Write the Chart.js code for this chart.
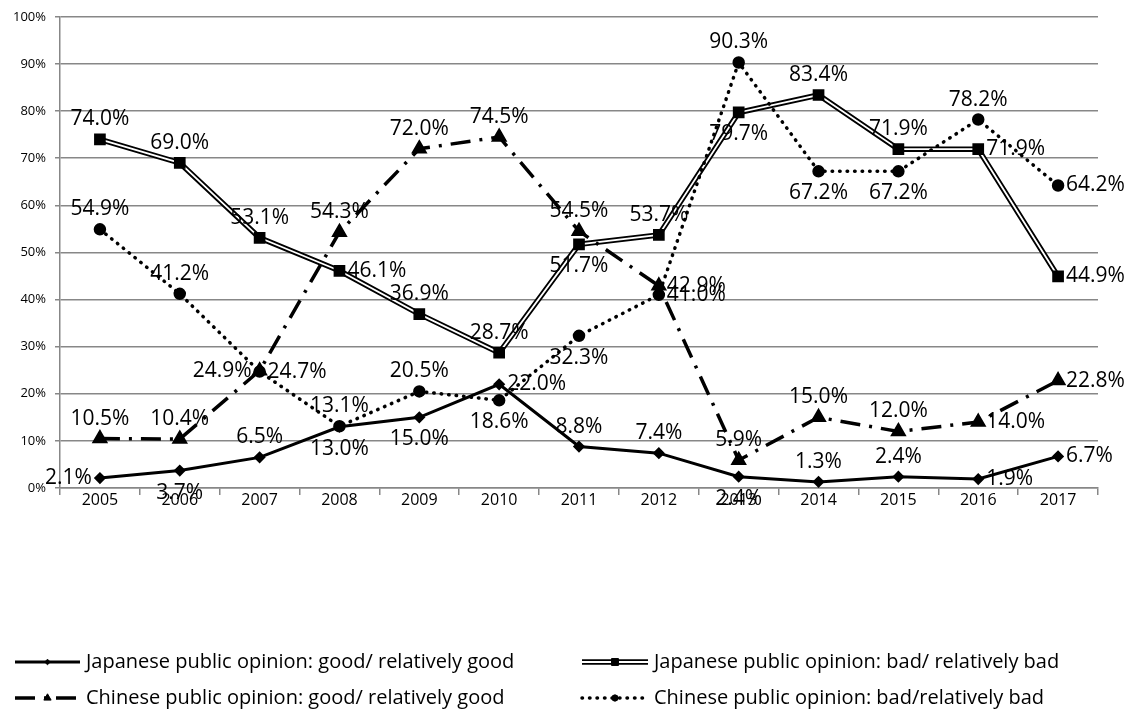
<!DOCTYPE html>
<html>
<head>
<meta charset="utf-8">
<script src="https://cdn.jsdelivr.net/npm/chart.js@4.4.1/dist/chart.umd.min.js"></script>
<style>
  html, body { margin: 0; padding: 0; background: #fff; }
  #wrap { width: 1127px; height: 718px; }
</style>
</head>
<body>
<div id="wrap"><canvas id="chart" width="1127" height="718"></canvas></div>
<script>
const years = ['2005', '2006', '2007', '2008', '2009', '2010', '2011', '2012', '2013', '2014', '2015', '2016', '2017'];
const yTicks = [0, 10, 20, 30, 40, 50, 60, 70, 80, 90, 100];

const jpGood = [2.1, 3.7, 6.5, 13.0, 15.0, 22.0, 8.8, 7.4, 2.4, 1.3, 2.4, 1.9, 6.7];
const jpBad = [74.0, 69.0, 53.1, 46.1, 36.9, 28.7, 51.7, 53.7, 79.7, 83.4, 71.9, 71.9, 44.9];
const cnGood = [10.5, 10.4, 24.9, 54.3, 72.0, 74.5, 54.5, 42.9, 5.9, 15.0, 12.0, 14.0, 22.8];
const cnBad = [54.9, 41.2, 24.7, 13.1, 20.5, 18.6, 32.3, 41.0, 90.3, 67.2, 67.2, 78.2, 64.2];

// where each value label sits relative to its point
const jpGoodPos = ['left', 'below', 'above', 'below', 'below', 'right', 'above', 'above', 'below', 'above', 'above', 'right', 'right'];
const jpBadPos = ['above', 'above', 'above', 'right', 'above', 'above', 'below', 'above', 'below', 'above', 'above', 'right', 'right'];
const cnGoodPos = ['above', 'above', 'left', 'above', 'above', 'above', 'above', 'right', 'above', 'above', 'above', 'right', 'right'];
const cnBadPos = ['above', 'above', 'right', 'above', 'above', 'below', 'below', 'right', 'above', 'below', 'below', 'above', 'right'];

const GRID = '#878787';
const FONT = "'Open Sans', 'Noto Sans', sans-serif";

// value labels next to the points
const valueLabels = {
    id: 'valueLabels',
    afterDatasetsDraw(chart) {
        const ctx = chart.ctx;
        ctx.save();
        ctx.font = '21px ' + FONT;
        ctx.fillStyle = '#000';
        ctx.textBaseline = 'middle';
        chart.data.datasets.forEach((ds, i) => {
            if (!ds.labelPos) return;
            chart.getDatasetMeta(i).data.forEach((pt, j) => {
                const txt = ds.data[j].toFixed(1) + '%';
                const pos = ds.labelPos[j];
                let x = pt.x, y = pt.y;
                if (pos === 'above') { ctx.textAlign = 'center'; y -= 20; }
                else if (pos === 'below') { ctx.textAlign = 'center'; y += 22; }
                else if (pos === 'right') { ctx.textAlign = 'left'; x += 8; }
                else { ctx.textAlign = 'right'; x -= 8; }
                ctx.fillText(txt, x, y);
            });
        });
        ctx.restore();
    }
};

// legend in two columns under the chart
const twoColLegend = {
    id: 'twoColLegend',
    afterDraw(chart) {
        const ctx = chart.ctx;
        const items = chart.data.datasets.filter(ds => !ds.legendSkip);
        const rows = [662, 698];
        const cols = [[15, 80], [582, 648]];
        items.forEach((ds, k) => {
            const y = rows[Math.floor(k / 2)];
            const [x0, x1] = cols[k % 2];
            ctx.save();
            ctx.lineCap = ds.borderCapStyle || 'butt';
            if (ds.doubleLine) {
                ctx.strokeStyle = '#000';
                ctx.lineWidth = 5.5;
                ctx.beginPath(); ctx.moveTo(x0, y); ctx.lineTo(x1, y); ctx.stroke();
            }
            ctx.setLineDash(ds.borderDash || []);
            ctx.strokeStyle = ds.borderColor;
            ctx.lineWidth = ds.borderWidth;
            ctx.beginPath(); ctx.moveTo(x0, y); ctx.lineTo(x1, y); ctx.stroke();
            ctx.setLineDash([]);
            ctx.fillStyle = ds.pointBackgroundColor;
            ctx.strokeStyle = ds.pointBorderColor;
            ctx.lineWidth = 1;
            Chart.helpers.drawPoint(ctx, { pointStyle: ds.pointStyle, radius: ds.pointRadius * 0.7, rotation: 0, borderWidth: 1 }, (x0 + x1) / 2, y);
            ctx.fillStyle = '#000';
            ctx.font = '20px ' + FONT;
            ctx.textAlign = 'left';
            ctx.textBaseline = 'middle';
            ctx.fillText(ds.label, x1 + 6, y);
            ctx.restore();
        });
    }
};

new Chart(document.getElementById('chart'), {
    type: 'line',
    data: {
        labels: years,
        datasets: [
            {
                label: 'Japanese public opinion: good/ relatively good',
                data: jpGood, labelPos: jpGoodPos,
                borderColor: '#000', borderWidth: 3,
                pointStyle: 'rectRot', pointRadius: 4,
                pointBackgroundColor: '#000', pointBorderColor: '#000',
                order: 0
            },
            {
                label: 'Japanese public opinion: bad/ relatively bad',
                data: jpBad, labelPos: jpBadPos, doubleLine: true,
                borderColor: '#fff', borderWidth: 1.8,
                pointStyle: 'rect', pointRadius: 7,
                pointBackgroundColor: '#000', pointBorderColor: '#000',
                order: 3
            },
            {
                label: 'Chinese public opinion: good/ relatively good',
                data: cnGood, labelPos: cnGoodPos,
                borderColor: '#000', borderWidth: 3.5, borderDash: [20, 9, 3, 9],
                pointStyle: 'triangle', pointRadius: 6,
                pointBackgroundColor: '#000', pointBorderColor: '#000',
                order: 1
            },
            {
                label: 'Chinese public opinion: bad/relatively bad',
                data: cnBad, labelPos: cnBadPos,
                borderColor: '#000', borderWidth: 3.5, borderDash: [0.5, 7], borderCapStyle: 'round',
                pointStyle: 'circle', pointRadius: 4.5,
                pointBackgroundColor: '#000', pointBorderColor: '#000',
                order: 2
            },
            {
                // black outer stroke of the double line
                label: '', legendSkip: true,
                data: jpBad,
                borderColor: '#000', borderWidth: 5.5, pointRadius: 0,
                order: 4
            }
        ]
    },
    options: {
        responsive: false,
        animation: false,
        devicePixelRatio: 1,
        layout: { padding: { left: 10, right: 29, top: 8, bottom: 200 } },
        elements: { line: { tension: 0 } },
        plugins: { legend: { display: false }, tooltip: { enabled: false } },
        scales: {
            x: {
                offset: true,
                grid: { offset: true, drawOnChartArea: false, tickLength: 7, color: GRID, lineWidth: 1.5 },
                border: { color: GRID, width: 1.5 },
                ticks: { color: '#000', font: { family: FONT, size: 16 }, padding: -4, maxRotation: 0 },
                afterFit: s => { s.height = 30; }
            },
            y: {
                min: 0, max: 100,
                afterBuildTicks: s => { s.ticks = yTicks.map(v => ({ value: v })); },
                ticks: { color: '#000', font: { family: FONT, size: 13 }, padding: 9, callback: v => v + '%' },
                grid: { color: GRID, lineWidth: 1.5, tickLength: 5 },
                border: { color: GRID, width: 1.5 },
                afterFit: s => { s.width = 50; }
            }
        }
    },
    plugins: [valueLabels, twoColLegend]
});
</script>
</body>
</html>
